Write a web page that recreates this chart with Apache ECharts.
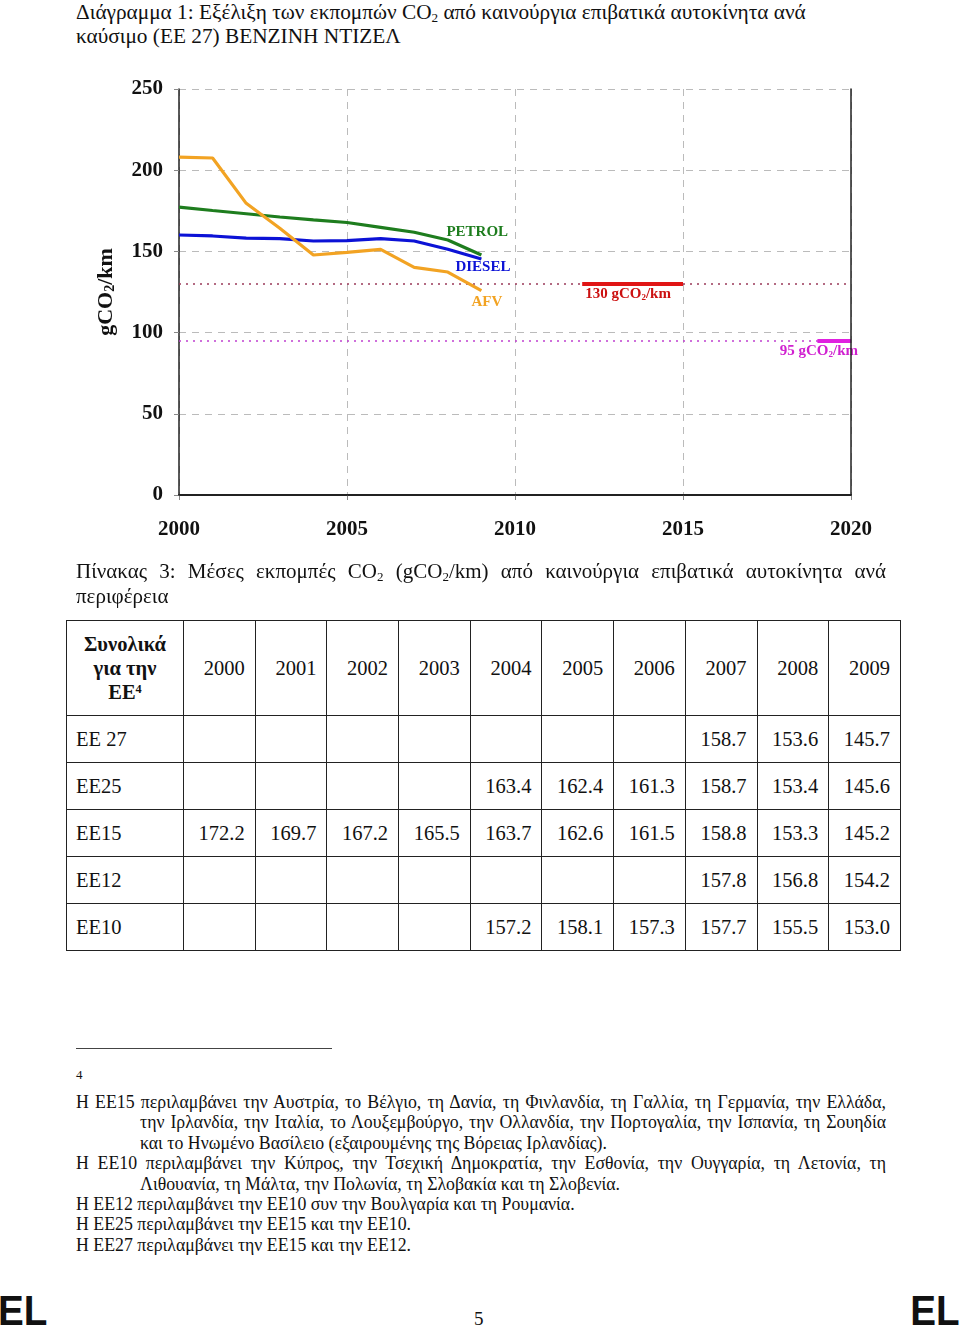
<!DOCTYPE html>
<html>
<head>
<meta charset="utf-8">
<script src="https://cdn.jsdelivr.net/npm/echarts@6/dist/echarts.min.js"></script>
<style>
  html, body { margin:0; padding:0; background:#fff; }
  body { width:960px; height:1330px; position:relative; overflow:hidden; font-family:"Liberation Serif","Times New Roman",serif; color:#111; }
  .abs { position:absolute; }
  sub { font-size:0.62em; vertical-align:-0.22em; line-height:0; }
  sup { font-size:0.6em; vertical-align:0.5em; line-height:0; }
  #title { left:76px; top:0px; width:840px; font-size:21.3px; line-height:24px; white-space:nowrap; }
  #chart { left:0; top:60px; width:960px; height:500px; }
  #caption { left:76px; top:559px; width:810px; font-size:21px; line-height:25px; }
  .jl { text-align:justify; text-align-last:justify; white-space:nowrap; }
  table { border-collapse:collapse; table-layout:fixed; position:absolute; left:66px; top:620px; width:834px; font-size:20.5px; }
  td { border:1px solid #222; padding:0 10px 0 0; text-align:right; height:46px; overflow:hidden; white-space:nowrap; }
  td.lab { text-align:left; padding-left:9px; }
  tr.head td { height:94px; }
  td.hl { text-align:center; font-weight:bold; line-height:24px; padding:0; white-space:normal; }
  #sep { left:76px; top:1048px; width:256px; height:0; border-top:1.3px solid #444; }
  #fnum { left:76px; top:1067px; font-size:13px; }
  #notes { left:76px; top:1092px; width:810px; font-size:17.8px; line-height:20.4px; }
  #notes div { white-space:nowrap; }
  #notes .ind { padding-left:64px; }
  .el { font-family:"Liberation Sans",Arial,sans-serif; font-weight:bold; font-size:42px; top:1288px; line-height:46px; transform:scaleX(0.92); }
  #pg { left:474px; top:1308px; font-size:19px; }
</style>
</head>
<body>
<div id="title" class="abs">Διάγραμμα 1: Εξέλιξη των εκπομπών CO<sub>2</sub> από καινούργια επιβατικά αυτοκίνητα ανά<br>καύσιμο (ΕΕ 27) ΒΕΝΖΙΝΗ ΝΤΙΖΕΛ</div>
<div id="chart" class="abs"></div>
<div id="caption" class="abs"><div class="jl">Πίνακας 3: Μέσες εκπομπές CO<sub>2</sub> (gCO<sub>2</sub>/km) από καινούργια επιβατικά αυτοκίνητα ανά</div><div>περιφέρεια</div></div>
<table id="tbl"></table>
<div id="sep" class="abs"></div>
<div id="fnum" class="abs">4</div>
<div id="notes" class="abs">
<div class="jl">Η ΕΕ15 περιλαμβάνει την Αυστρία, το Βέλγιο, τη Δανία, τη Φινλανδία, τη Γαλλία, τη Γερμανία, την Ελλάδα,</div>
<div class="jl ind">την Ιρλανδία, την Ιταλία, το Λουξεμβούργο, την Ολλανδία, την Πορτογαλία, την Ισπανία, τη Σουηδία</div>
<div class="ind">και το Ηνωμένο Βασίλειο (εξαιρουμένης της Βόρειας Ιρλανδίας).</div>
<div class="jl">Η ΕΕ10 περιλαμβάνει την Κύπρος, την Τσεχική Δημοκρατία, την Εσθονία, την Ουγγαρία, τη Λετονία, τη</div>
<div class="ind">Λιθουανία, τη Μάλτα, την Πολωνία, τη Σλοβακία και τη Σλοβενία.</div>
<div>Η ΕΕ12 περιλαμβάνει την ΕΕ10 συν την Βουλγαρία και τη Ρουμανία.</div>
<div>Η ΕΕ25 περιλαμβάνει την ΕΕ15 και την ΕΕ10.</div>
<div>Η ΕΕ27 περιλαμβάνει την ΕΕ15 και την ΕΕ12.</div>
</div>
<div class="abs el" style="left:-2px; transform-origin:left center;">EL</div>
<div class="abs el" style="left:906px; transform-origin:right center;">EL</div>
<div id="pg" class="abs">5</div>

<script>
// ---- chart data ----
const years = [2000, 2001, 2002, 2003, 2004, 2005, 2006, 2007, 2008, 2009];
const petrol = [177.3, 175.2, 173.2, 171.2, 169.4, 167.8, 164.8, 161.8, 157.0, 147.8];
const diesel = [160.1, 159.5, 158.2, 157.9, 156.4, 156.6, 157.9, 156.4, 151.3, 145.3];
const afv    = [208.0, 207.5, 179.6, 164.2, 147.8, 149.4, 151.3, 140.2, 137.3, 125.8];
const seriesNames = ['PETROL', 'DIESEL', 'AFV'];
const target130 = { value: 130, from: 2012, to: 2015, label: '130' };
const target95  = { value: 95,  from: 2019, to: 2020, label: '95' };
const xTicks = [2000, 2005, 2010, 2015, 2020];
const yTicks = [0, 50, 100, 150, 200, 250];

// ---- table data ----
const tableYears = ['2000','2001','2002','2003','2004','2005','2006','2007','2008','2009'];
const tableRows = ['ΕΕ 27', 'ΕΕ25', 'ΕΕ15', 'ΕΕ12', 'ΕΕ10'];
const rowEE27 = [null, null, null, null, null, null, null, '158.7', '153.6', '145.7'];
const rowEE25 = [null, null, null, null, '163.4', '162.4', '161.3', '158.7', '153.4', '145.6'];
const rowEE15 = ['172.2', '169.7', '167.2', '165.5', '163.7', '162.6', '161.5', '158.8', '153.3', '145.2'];
const rowEE12 = [null, null, null, null, null, null, null, '157.8', '156.8', '154.2'];
const rowEE10 = [null, null, null, null, '157.2', '158.1', '157.3', '157.7', '155.5', '153.0'];

// build table
(function(){
  const rowsData = [rowEE27, rowEE25, rowEE15, rowEE12, rowEE10];
  let html = '<colgroup><col style="width:117px">';
  tableYears.forEach(() => html += '<col style="width:71.7px">');
  html += '</colgroup>';
  html += '<tr class="head"><td class="lab hl">Συνολικά<br>για την<br>ΕΕ<sup>4</sup></td>';
  tableYears.forEach(y => html += '<td>' + y + '</td>');
  html += '</tr>';
  tableRows.forEach((r, i) => {
    html += '<tr><td class="lab">' + r + '</td>';
    rowsData[i].forEach(v => html += '<td>' + (v === null ? '' : v) + '</td>');
    html += '</tr>';
  });
  document.getElementById('tbl').innerHTML = html;
})();

const chart = echarts.init(document.getElementById('chart'), null, { renderer: 'canvas' });
const serif = '"Liberation Serif","Times New Roman",serif';
const pairs = arr => years.map((y, i) => [y, arr[i]]);
const colors = { PETROL: '#1e7d1e', DIESEL: '#0c12d6', AFV: '#f2a323' };
const labelOffsets = { PETROL: [-35, -23], DIESEL: [-26, 8], AFV: [-10, 11] };
const seriesData = { PETROL: petrol, DIESEL: diesel, AFV: afv };

const lineSeries = seriesNames.map(n => ({
  type: 'line', name: n, data: pairs(seriesData[n]), showSymbol: false, symbol: 'none',
  lineStyle: { color: colors[n], width: 3.2 }, z: 5,
  endLabel: { show: true, formatter: n, color: colors[n], fontFamily: serif, fontWeight: 'bold',
    fontSize: 15, align: 'left', verticalAlign: 'middle', distance: 0, offset: labelOffsets[n] }
}));

const subRich = (color, size) => ({
  a: { color: color, fontFamily: serif, fontWeight: 'bold', fontSize: size },
  s: { color: color, fontFamily: serif, fontWeight: 'bold', fontSize: Math.round(size * 0.62), verticalAlign: 'bottom', padding: [Math.round(size*0.35), 0, 0, 0] }
});

const refSeries = {
  type: 'line', data: [], silent: true,
  markLine: {
    symbol: 'none', silent: true, animation: false,
    data: [
      { yAxis: target130.value, lineStyle: { type: [2, 5], color: '#9a3a5a', width: 1.6 }, label: { show: false } },
      { yAxis: target95.value, lineStyle: { type: [2, 5], color: '#c040d0', width: 1.6 }, label: { show: false } },
      [ { coord: [target130.from, target130.value], lineStyle: { type: 'solid', color: '#e01515', width: 4 },
          label: { show: true, position: 'insideStartBottom', distance: [3, 3],
            formatter: '{a|' + target130.label + ' gCO}{s|2}{a|/km}', rich: subRich('#cc1111', 15) } },
        { coord: [target130.to, target130.value] } ],
      [ { coord: [target95.from, target95.value], lineStyle: { type: 'solid', color: '#e020e0', width: 4 },
          label: { show: true, position: 'insideEndBottom', distance: [-7, 3],
            formatter: '{a|' + target95.label + ' gCO}{s|2}{a|/km}', rich: subRich('#d020d0', 15) } },
        { coord: [target95.to, target95.value] } ]
    ]
  }
};

chart.setOption({
  animation: false,
  grid: { left: 179, top: 29, width: 672, height: 406, containLabel: false },
  xAxis: [{
    type: 'value', min: xTicks[0], max: xTicks[xTicks.length-1], interval: 5,
    axisLine: { show: true, onZero: false, lineStyle: { color: '#222', width: 2 } },
    axisTick: { show: true, length: 5, lineStyle: { color: '#888' } },
    axisLabel: { margin: 24, fontFamily: serif, fontWeight: 'bold', fontSize: 21, color: '#111', formatter: v => String(v) },
    splitLine: { show: true, lineStyle: { type: [7, 6], color: '#bbb', width: 1 } }
  }, {
    type: 'value', min: xTicks[0], max: xTicks[xTicks.length-1], position: 'top', z: 6,
    axisLine: { show: true, lineStyle: { color: '#222', width: 1.5 } },
    axisTick: { show: false }, axisLabel: { show: false }, splitLine: { show: false }
  }],
  yAxis: [{
    type: 'value', min: yTicks[0], max: yTicks[yTicks.length-1], interval: 50,
    name: '{a|gCO}{s|2}{a|/km}', nameLocation: 'middle', nameRotate: 90, nameGap: 62,
    nameTextStyle: { rich: subRich('#111', 22) },
    axisLine: { show: true, lineStyle: { color: '#222', width: 1.5 } },
    axisTick: { show: true, length: 5, lineStyle: { color: '#888' } },
    axisLabel: { margin: 16, fontFamily: serif, fontWeight: 'bold', fontSize: 21, color: '#111' },
    splitLine: { show: true, lineStyle: { type: [7, 6], color: '#bbb', width: 1 } }
  }, {
    type: 'value', min: yTicks[0], max: yTicks[yTicks.length-1], position: 'right', z: 6,
    axisLine: { show: true, lineStyle: { color: '#222', width: 1.5 } },
    axisTick: { show: false }, axisLabel: { show: false }, splitLine: { show: false }
  }],
  series: [refSeries].concat(lineSeries)
});
</script>
</body>
</html>
